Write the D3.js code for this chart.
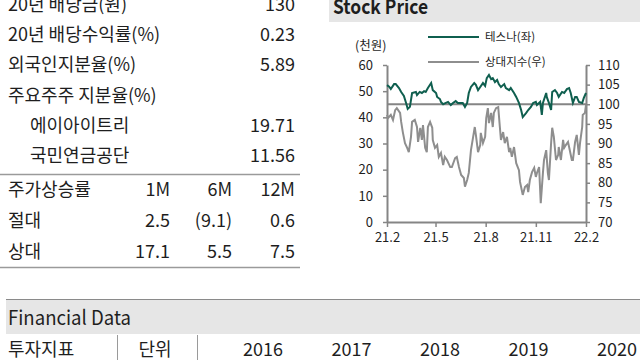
<!DOCTYPE html>
<html><head><meta charset="utf-8">
<script src="https://cdn.jsdelivr.net/npm/d3@7"></script>
<style>html,body{margin:0;padding:0;background:#fff}svg{display:block}</style>
</head><body>
<svg id="c" width="640" height="360"></svg>
<script>
// ---------- data ----------
const infoLabels = ["20년 배당금(원)", "20년 배당수익률(%)", "외국인지분율(%)", "주요주주 지분율(%)"];
const infoValues = ["130", "0.23", "5.89", ""];
const majorHolders = ["에이아이트리", "국민연금공단"];
const holderShares = [19.71, 11.56];
const returnTitle = "주가상승률";
const returnPeriods = ["1M", "6M", "12M"];
const returnRowLabels = ["절대", "상대"];
const absoluteReturns = [2.5, -9.1, 0.6];
const relativeReturns = [17.1, 5.5, 7.5];

const chartTitle = "Stock Price";
const seriesNames = ["테스나(좌)", "상대지수(우)"];
const leftUnit = "(천원)";
const leftTicks = [0, 10, 20, 30, 40, 50, 60];
const rightTicks = [70, 75, 80, 85, 90, 95, 100, 105, 110];
const xTickDates = ["2021-02-01", "2021-05-01", "2021-08-01", "2021-11-01", "2022-02-01"];
const baseLevel = 100;

const tesnaDates = ["2021-02-01","2021-02-05","2021-02-08","2021-02-14","2021-02-17","2021-02-23","2021-02-27","2021-03-04","2021-03-08","2021-03-11","2021-03-15","2021-03-19","2021-03-26","2021-03-28","2021-04-02","2021-04-06","2021-04-10","2021-04-13","2021-04-17","2021-04-23","2021-04-26","2021-05-02","2021-05-04","2021-05-09","2021-05-11","2021-05-15","2021-05-20","2021-05-24","2021-05-29","2021-06-02","2021-06-07","2021-06-11","2021-06-15","2021-06-20","2021-06-24","2021-06-28","2021-07-01","2021-07-05","2021-07-11","2021-07-14","2021-07-18","2021-07-22","2021-07-27","2021-07-31","2021-08-03","2021-08-07","2021-08-11","2021-08-14","2021-08-18","2021-08-22","2021-08-25","2021-08-29","2021-09-04","2021-09-07","2021-09-13","2021-09-16","2021-09-22","2021-09-26","2021-10-01","2021-10-05","2021-10-08","2021-10-14","2021-10-18","2021-10-23","2021-10-27","2021-11-01","2021-11-03","2021-11-09","2021-11-12","2021-11-14","2021-11-20","2021-11-21","2021-11-25","2021-11-29","2021-12-01","2021-12-06","2021-12-10","2021-12-13","2021-12-19","2021-12-23","2021-12-28","2022-01-01","2022-01-04","2022-01-08","2022-01-12","2022-01-15","2022-01-19","2022-01-25","2022-01-28","2022-02-01"];
const tesnaValues = [52.3,51.7,50.8,52.7,52.7,51.2,49.7,48.2,45.5,43.2,44.0,49.3,49.7,48.5,49.7,49.3,50.0,49.7,51.2,53.1,50.4,49.3,47.8,47.0,45.9,45.0,45.5,45.9,44.7,45.5,46.2,45.5,45.5,45.5,44.0,45.5,49.3,51.6,53.1,52.4,50.4,51.6,53.1,52.0,55.0,56.2,54.6,55.0,53.5,54.3,52.7,51.6,52.7,51.2,50.4,51.2,49.3,47.8,45.5,42.8,40.1,41.6,42.8,44.0,45.5,45.9,44.7,45.9,40.9,45.5,49.3,47.8,45.5,42.8,49.7,50.4,49.3,47.8,49.7,49.3,50.8,51.2,49.3,45.5,47.8,47.8,45.9,45.5,47.4,49.3];

const indexDates = ["2021-02-01","2021-02-03","2021-02-08","2021-02-12","2021-02-16","2021-02-19","2021-02-25","2021-02-27","2021-03-02","2021-03-06","2021-03-10","2021-03-13","2021-03-17","2021-03-19","2021-03-24","2021-03-28","2021-03-30","2021-04-03","2021-04-06","2021-04-08","2021-04-12","2021-04-15","2021-04-17","2021-04-21","2021-04-25","2021-04-26","2021-04-30","2021-05-04","2021-05-07","2021-05-11","2021-05-15","2021-05-18","2021-05-22","2021-05-28","2021-05-31","2021-06-06","2021-06-09","2021-06-13","2021-06-17","2021-06-22","2021-06-24","2021-06-28","2021-07-01","2021-07-05","2021-07-09","2021-07-12","2021-07-14","2021-07-18","2021-07-22","2021-07-23","2021-07-27","2021-07-31","2021-08-02","2021-08-05","2021-08-07","2021-08-11","2021-08-14","2021-08-16","2021-08-20","2021-08-24","2021-08-27","2021-08-29","2021-09-02","2021-09-05","2021-09-09","2021-09-13","2021-09-15","2021-09-18","2021-09-22","2021-09-26","2021-10-01","2021-10-03","2021-10-07","2021-10-08","2021-10-12","2021-10-16","2021-10-18","2021-10-21","2021-10-25","2021-10-29","2021-11-01","2021-11-03","2021-11-07","2021-11-10","2021-11-14","2021-11-16","2021-11-20","2021-11-23","2021-11-25","2021-11-29","2021-12-01","2021-12-04","2021-12-08","2021-12-12","2021-12-13","2021-12-17","2021-12-21","2021-12-23","2021-12-26","2021-12-30","2022-01-01","2022-01-06","2022-01-08","2022-01-12","2022-01-15","2022-01-19","2022-01-21","2022-01-25","2022-01-26","2022-01-30","2022-02-01"];
const indexValues = [97.3,96.5,97.3,96.0,98.5,99.0,97.8,95.5,92.9,90.1,88.9,87.8,91.7,95.5,96.0,94.2,90.4,94.0,90.9,94.7,88.9,87.8,94.2,95.5,94.0,90.9,88.9,89.6,86.6,87.6,84.5,86.6,85.8,84.0,84.0,86.3,86.6,84.0,82.0,81.2,79.0,80.7,82.5,88.3,91.7,94.2,92.2,87.8,89.6,92.7,90.1,91.7,96.5,99.0,95.2,97.8,94.2,97.8,99.0,99.3,94.2,90.9,92.9,90.1,91.7,87.8,88.9,86.6,89.1,85.0,83.2,80.2,77.6,76.9,78.9,79.4,77.6,80.7,82.7,83.8,81.5,82.5,84.0,74.8,82.5,85.8,88.3,82.5,80.7,90.1,94.0,91.7,85.8,87.1,89.1,85.8,90.9,88.9,89.6,90.4,89.1,85.8,85.8,90.4,92.2,87.1,90.1,94.2,97.3,97.8,99.8];

const finTitle = "Financial Data";
const finHeaders = ["투자지표", "단위"];
const finYears = ["2016", "2017", "2018", "2019", "2020"];

// ---------- drawing ----------
const FONT = "'Noto Sans CJK KR','Noto Sans',sans-serif";
const TXT = "#1e1e1e";
const svg = d3.select("#c").style("font-family", FONT);
const parse = d3.timeParse("%Y-%m-%d");

// ---- left info table ----
const tbl = svg.append("g").attr("fill", TXT).attr("font-size", 18);
const rowY1 = d3.scaleLinear().domain([0, 5]).range([11, 162]);
infoLabels.forEach((l, i) => {
  tbl.append("text").attr("x", 8).attr("y", rowY1(i)).text(l);
  tbl.append("text").attr("x", 295).attr("y", rowY1(i)).attr("text-anchor", "end").text(infoValues[i]);
});
majorHolders.forEach((h, i) => {
  const y = rowY1(infoLabels.length + i);
  tbl.append("text").attr("x", 30).attr("y", y).text(h);
  tbl.append("text").attr("x", 295).attr("y", y).attr("text-anchor", "end").text(d3.format(".2f")(holderShares[i]));
});
svg.append("line").attr("x1", 0).attr("x2", 300).attr("y1", 174.5).attr("y2", 174.5).attr("stroke", "#9a9a9a").attr("stroke-width", 1.5);
svg.append("line").attr("x1", 0).attr("x2", 300).attr("y1", 267.5).attr("y2", 267.5).attr("stroke", "#9a9a9a").attr("stroke-width", 1.5);

const colX = d3.scaleOrdinal().domain(returnPeriods).range([170, 232, 295]);
const rowY2 = d3.scaleLinear().domain([0, 2]).range([196, 258]);
const fmtRet = v => v < 0 ? "(" + d3.format(".1f")(-v) + ")" : d3.format(".1f")(v);
tbl.append("text").attr("x", 8).attr("y", rowY2(0)).text(returnTitle);
returnPeriods.forEach(p => tbl.append("text").attr("x", colX(p)).attr("y", rowY2(0)).attr("text-anchor", "end").text(p));
[absoluteReturns, relativeReturns].forEach((arr, r) => {
  tbl.append("text").attr("x", 8).attr("y", rowY2(r + 1)).text(returnRowLabels[r]);
  arr.forEach((v, j) => tbl.append("text").attr("x", colX(returnPeriods[j])).attr("y", rowY2(r + 1)).attr("text-anchor", "end").text(fmtRet(v)));
});

// ---- Stock price chart ----
svg.append("rect").attr("x", 329).attr("y", 0).attr("width", 311).attr("height", 22).attr("fill", "#e6e6e6");
svg.append("text").attr("x", 333).attr("y", 14).attr("font-size", 20).attr("font-weight", 600).attr("fill", TXT)
  .attr("textLength", 95).attr("lengthAdjust", "spacingAndGlyphs").text(chartTitle);

const x = d3.scaleTime().domain([parse(xTickDates[0]), parse(xTickDates[xTickDates.length - 1])]).range([387, 586]);
const yL = d3.scaleLinear().domain([0, 60]).range([222, 65]);
const yR = d3.scaleLinear().domain([70, 110]).range([222, 65]);
const AX = "#858585";

const styleAxis = g => {
  g.select(".domain").attr("stroke", AX).attr("stroke-width", 2);
  g.selectAll(".tick line").attr("stroke", AX).attr("stroke-width", 1.5);
  g.selectAll("text").attr("fill", TXT).attr("font-family", FONT).attr("font-size", 13);
};
svg.append("g").attr("transform", "translate(387,0)")
  .call(d3.axisLeft(yL).tickValues(leftTicks).tickSize(4).tickSizeOuter(0).tickPadding(10)).call(styleAxis);
svg.append("g").attr("transform", "translate(586,0)")
  .call(d3.axisRight(yR).tickValues(rightTicks).tickSize(4).tickSizeOuter(0).tickPadding(8)).call(styleAxis);
svg.append("g").attr("transform", "translate(0,222)")
  .call(d3.axisBottom(x).tickValues(xTickDates.map(parse)).tickFormat(d3.timeFormat("%y.%-m")).tickSize(5).tickSizeOuter(0).tickPadding(6)).call(styleAxis);

// base line at 100
svg.append("line").attr("x1", x.range()[0]).attr("x2", x.range()[1]).attr("y1", yR(baseLevel)).attr("y2", yR(baseLevel))
  .attr("stroke", AX).attr("stroke-width", 2);

const indexData = indexDates.map((d, i) => ({ d: parse(d), v: indexValues[i] }));
const tesnaData = tesnaDates.map((d, i) => ({ d: parse(d), v: tesnaValues[i] }));
svg.append("path").datum(indexData).attr("fill", "none").attr("stroke", "#8e8e8e").attr("stroke-width", 2)
  .attr("d", d3.line().x(p => x(p.d)).y(p => yR(p.v)));
svg.append("path").datum(tesnaData).attr("fill", "none").attr("stroke", "#0f5f4f").attr("stroke-width", 2)
  .attr("d", d3.line().x(p => x(p.d)).y(p => yL(p.v)));

// legend & unit
const legColors = ["#0f5f4f", "#8e8e8e"];
seriesNames.forEach((n, i) => {
  const y = 37 + i * 25;
  svg.append("line").attr("x1", 428).attr("x2", 479).attr("y1", y).attr("y2", y).attr("stroke", legColors[i]).attr("stroke-width", 2);
  svg.append("text").attr("x", 485).attr("y", y + 4).attr("font-size", 11.5).attr("fill", TXT).text(n);
});
svg.append("text").attr("x", 355).attr("y", 50).attr("font-size", 12.5).attr("fill", TXT).text(leftUnit);

// ---- Financial data ----
svg.append("rect").attr("x", 6).attr("y", 299).attr("width", 634).attr("height", 35).attr("fill", "#e6e6e6");
svg.append("line").attr("x1", 6).attr("x2", 640).attr("y1", 299.5).attr("y2", 299.5).attr("stroke", "#8a8a8a").attr("stroke-width", 1);
svg.append("text").attr("x", 8).attr("y", 325).attr("font-size", 20).attr("fill", TXT)
  .attr("textLength", 123).attr("lengthAdjust", "spacingAndGlyphs").text(finTitle);

const fin = svg.append("g").attr("font-size", 18).attr("fill", TXT);
fin.append("text").attr("x", 8).attr("y", 356).text(finHeaders[0]);
fin.append("text").attr("x", 155).attr("y", 356).attr("text-anchor", "middle").text(finHeaders[1]);
[117, 197].forEach(sx => svg.append("line").attr("x1", sx + 0.5).attr("x2", sx + 0.5).attr("y1", 335).attr("y2", 360).attr("stroke", "#9a9a9a"));
const yearX = d3.scalePoint().domain(finYears).range([263, 617]);
finYears.forEach(yv => fin.append("text").attr("x", yearX(yv)).attr("y", 356).attr("text-anchor", "middle").text(yv));
</script>
</body></html>
